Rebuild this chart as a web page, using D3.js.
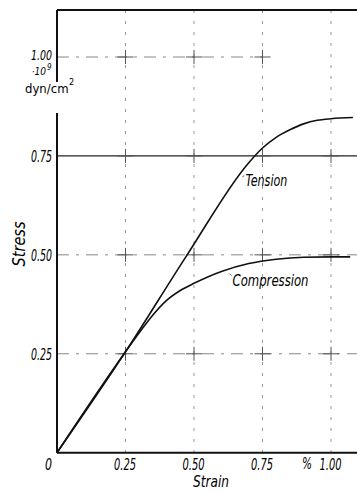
<!DOCTYPE html>
<html>
<head>
<meta charset="utf-8">
<script src="https://cdn.jsdelivr.net/npm/d3@7"></script>
<style>
  body { margin: 0; background: #fff; }
  svg { display: block; }
  text { font-family: "Liberation Sans Narrow", "DejaVu Sans Condensed", "Liberation Sans", sans-serif; fill: #000; }
</style>
</head>
<body>
<div id="chart"></div>
<script>
// strain (%) vs stress (1e9 dyn/cm2)
const tensionStrain = [0, 0.25, 0.475, 0.70, 0.75, 0.80, 0.85, 0.90, 0.95, 1.00, 1.08];
const tensionStress = [0, 0.255, 0.50, 0.733, 0.77, 0.797, 0.816, 0.831, 0.840, 0.844, 0.847];
const compStrain = [0, 0.25, 0.30, 0.35, 0.40, 0.45, 0.50, 0.60, 0.70, 0.80, 0.90, 1.00, 1.07];
const compStress = [0, 0.255, 0.303, 0.348, 0.385, 0.41, 0.428, 0.458, 0.478, 0.489, 0.494, 0.495, 0.495];
const xTicks = [0, 0.25, 0.5, 0.75, 1.0];
const yTicks = [0.25, 0.5, 0.75, 1.0];
const xTickLabels = ["0", "0.25", "0.50", "0.75", "1.00"];
const yTickLabels = ["0.25", "0.50", "0.75", "1.00"];

const width = 357, height = 492;

const x = d3.scaleLinear().domain([0, 1]).range([57, 331]);
const y = d3.scaleLinear().domain([0, 1]).range([452.7, 57]);
const xMax = x.invert(width), yMax = y.invert(10);

const svg = d3.select("#chart").append("svg")
    .attr("width", width)
    .attr("height", height);

// grid
const grid = svg.append("g");
grid.selectAll("line.v")
  .data(xTicks.slice(1))
  .join("line")
    .attr("x1", d => x(d)).attr("x2", d => x(d))
    .attr("y1", y(yMax)).attr("y2", y(0))
    .attr("stroke", "#999")
    .attr("stroke-width", 1)
    .attr("stroke-dasharray", "3,8");

grid.selectAll("line.h")
  .data(yTicks)
  .join("line")
    .attr("x1", x(0))
    .attr("x2", d => d == 1 ? x(0.75) : x(xMax))
    .attr("y1", d => y(d)).attr("y2", d => y(d))
    .attr("stroke", d => d == 0.75 ? "#222" : "#888")
    .attr("stroke-width", d => d == 0.75 ? 1.3 : 1)
    .attr("stroke-dasharray", d => d == 0.75 ? null : "12,7,3,7");

// small crosses where grid lines meet
const crosses = [];
xTicks.slice(1).forEach(a => yTicks.forEach(b => { if (!(b == 1 && a > 0.75)) crosses.push([a, b]); }));
grid.selectAll("path.cross")
  .data(crosses)
  .join("path")
    .attr("d", d => `M${x(d[0]) - 8},${y(d[1])}h16M${x(d[0])},${y(d[1]) - 7}v14`)
    .attr("stroke", "#555")
    .attr("stroke-width", 1)
    .attr("fill", "none");

// frame / axes
const frame = svg.append("g").attr("stroke", "#111").attr("stroke-width", 2).attr("fill", "none");
frame.append("line").attr("x1", x(0)).attr("x2", x(xMax)).attr("y1", y(yMax)).attr("y2", y(yMax));
frame.append("line").attr("x1", x(0)).attr("x2", x(xMax)).attr("y1", y(0)).attr("y2", y(0));
frame.append("line").attr("x1", x(0)).attr("x2", x(0)).attr("y1", y(yMax)).attr("y2", 82);
frame.append("line").attr("x1", x(0)).attr("x2", x(0)).attr("y1", 113).attr("y2", y(0));

// curves
const line = d3.line()
    .x(d => x(d[0]))
    .y(d => y(d[1]))
    .curve(d3.curveMonotoneX);

const tension = tensionStrain.map((s, i) => [s, tensionStress[i]]);
const compression = compStrain.map((s, i) => [s, compStress[i]]);

svg.append("path")
    .attr("d", line(tension))
    .attr("fill", "none")
    .attr("stroke", "#111")
    .attr("stroke-width", 1.6);

svg.append("path")
    .attr("d", line(compression))
    .attr("fill", "none")
    .attr("stroke", "#111")
    .attr("stroke-width", 1.6);

// axes tick labels
const xAxis = svg.append("g")
    .attr("transform", `translate(0,${y(0)})`)
    .call(d3.axisBottom(x).tickValues(xTicks).tickSize(0)
      .tickFormat((d, i) => xTickLabels[i]));
xAxis.select(".domain").remove();
xAxis.selectAll("text")
    .attr("dy", null)
    .attr("y", 17)
    .attr("x", d => d == 0 ? -9 : -1)
    .attr("font-size", 16)
    .attr("font-style", "italic")
    .attr("font-family", null)
    .attr("textLength", d => d == 0 ? 7 : 22)
    .attr("lengthAdjust", "spacingAndGlyphs");

const yAxis = svg.append("g")
    .attr("transform", `translate(${x(0)},0)`)
    .call(d3.axisLeft(y).tickValues(yTicks).tickSize(0).tickPadding(5)
      .tickFormat((d, i) => yTickLabels[i]));
yAxis.select(".domain").remove();
yAxis.selectAll("text")
    .attr("dy", d => d == 1 ? "0.15em" : "0.35em")
    .attr("font-size", d => d == 1 ? 14 : 16)
    .attr("font-style", "italic")
    .attr("font-family", null)
    .attr("textLength", 21)
    .attr("lengthAdjust", "spacingAndGlyphs");

// unit label (superscripts as own texts)
svg.append("text")
    .attr("x", 46).attr("y", 75)
    .attr("text-anchor", "end")
    .attr("font-size", 10)
    .attr("font-style", "italic")
    .text("·10");
svg.append("text")
    .attr("x", 47).attr("y", 70)
    .attr("font-size", 8)
    .attr("font-style", "italic")
    .text("9");

svg.append("text")
    .attr("x", 25).attr("y", 93)
    .attr("font-size", 13)
    .text("dyn/cm");
svg.append("text")
    .attr("x", 69).attr("y", 85)
    .attr("font-size", 9)
    .text("2");

svg.append("text")
    .attr("x", 302).attr("y", 469)
    .attr("font-size", 15)
    .attr("font-style", "italic")
    .attr("textLength", 10)
    .attr("lengthAdjust", "spacingAndGlyphs")
    .text("%");

// axis titles
svg.append("text")
    .attr("transform", "translate(25,244) rotate(-90)")
    .attr("text-anchor", "middle")
    .attr("font-size", 17)
    .attr("font-style", "italic")
    .attr("textLength", 45)
    .attr("lengthAdjust", "spacingAndGlyphs")
    .text("Stress");

svg.append("text")
    .attr("x", 193).attr("y", 487)
    .attr("font-size", 16)
    .attr("font-style", "italic")
    .attr("textLength", 36)
    .attr("lengthAdjust", "spacingAndGlyphs")
    .text("Strain");

// curve labels with little leaders
function curveLabel(pt, dx, dy, name, len) {
  const px = x(pt[0]), py = y(pt[1]);
  svg.append("line")
      .attr("x1", px + 1).attr("y1", py + 1)
      .attr("x2", px + dx - 1).attr("y2", py + dy - 10)
      .attr("stroke", "#444").attr("stroke-width", 0.8);
  svg.append("text")
      .attr("x", px + dx).attr("y", py + dy)
      .attr("font-size", 15)
      .attr("font-style", "italic")
      .attr("textLength", len)
      .attr("lengthAdjust", "spacingAndGlyphs")
      .text(name);
}
curveLabel([0.673, 0.70], 4, 10, "Tension", 42);
curveLabel([0.626, 0.455], 4, 13, "Compression", 76);
</script>
</body>
</html>
